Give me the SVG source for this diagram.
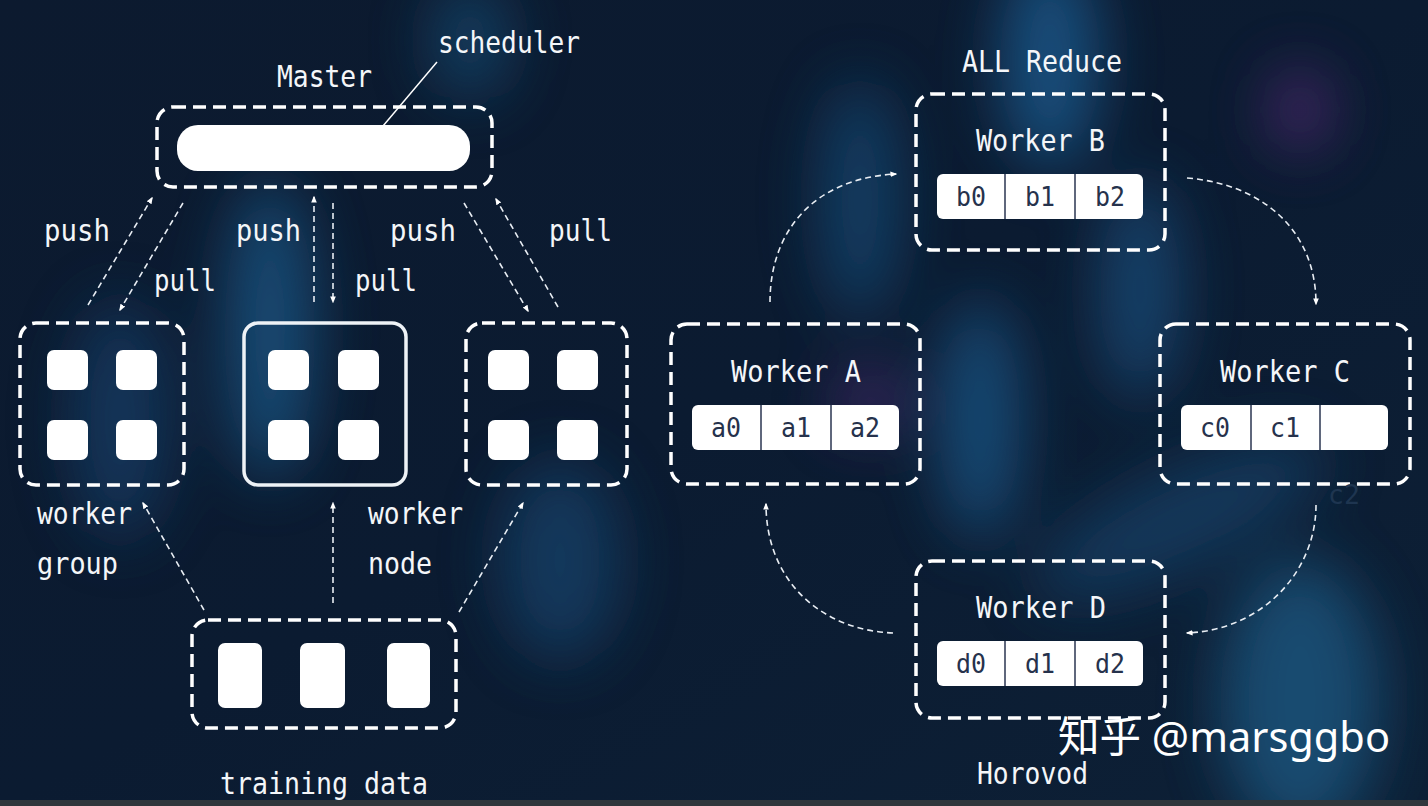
<svg xmlns="http://www.w3.org/2000/svg" width="1428" height="806" viewBox="0 0 1428 806">
<defs>
<style>
.dash{fill:none;stroke:#ffffff;stroke-width:3.5;stroke-dasharray:13 7}
.conn{fill:none;stroke:#e8edf3;stroke-width:1.6;stroke-dasharray:6 4}
.lbl{font-family:"DejaVu Sans Mono","Liberation Mono",monospace;font-size:30px;fill:#f4f6f9}
.cell{fill:#ffffff}
.div{stroke:#2a3550;stroke-width:1.5}
.ct{font-family:"DejaVu Sans Mono","Liberation Mono",monospace;font-size:26px;fill:#26324c}
.sq{fill:#ffffff}
</style>
<marker id="ah" viewBox="0 0 10 10" refX="8" refY="5" markerWidth="7" markerHeight="7" orient="auto-start-reverse" markerUnits="userSpaceOnUse">
<path d="M0,1 L10,5 L0,9 z" fill="#ffffff"/>
</marker>
<filter id="blur" x="-50%" y="-50%" width="200%" height="200%"><feGaussianBlur stdDeviation="30"/></filter>
<linearGradient id="bg" x1="0" y1="0" x2="1" y2="1">
<stop offset="0" stop-color="#0c1a2f"/>
<stop offset="0.5" stop-color="#0b1b31"/>
<stop offset="1" stop-color="#0d2036"/>
</linearGradient>
</defs>
<rect x="0" y="0" width="1428" height="806" fill="url(#bg)"/>
<g filter="url(#blur)" opacity="0.75">
<ellipse cx="270" cy="330" rx="45" ry="150" fill="#1b5a8a"/>
<ellipse cx="1050" cy="60" rx="50" ry="110" fill="#1a5f94"/>
<ellipse cx="980" cy="420" rx="40" ry="120" fill="#1a5a8c"/>
<ellipse cx="1140" cy="290" rx="40" ry="110" fill="#1a4f7e"/>
<ellipse cx="1300" cy="700" rx="80" ry="140" fill="#1a5a84"/>
<ellipse cx="860" cy="200" rx="40" ry="120" fill="#174a74"/>
<ellipse cx="560" cy="560" rx="60" ry="100" fill="#14426a"/>
<ellipse cx="470" cy="40" rx="40" ry="60" fill="#154870"/>
<ellipse cx="1300" cy="110" rx="30" ry="40" fill="#5a2a7a"/>
<ellipse cx="870" cy="400" rx="40" ry="30" fill="#4a2a70"/>
<ellipse cx="120" cy="420" rx="50" ry="120" fill="#143e66"/>
<ellipse cx="1180" cy="520" rx="160" ry="50" fill="#173f66" transform="rotate(-25 1180 520)"/>
</g>
<rect x="0" y="800" width="1428" height="6" fill="#30363c"/>

<g id="connectors">
<line class="conn" x1="88" y1="305" x2="152" y2="198" marker-end="url(#ah)"/>
<line class="conn" x1="183" y1="203" x2="120" y2="310" marker-end="url(#ah)"/>
<line class="conn" x1="314" y1="302" x2="314" y2="197" marker-end="url(#ah)"/>
<line class="conn" x1="333" y1="203" x2="333" y2="302" marker-end="url(#ah)"/>
<line class="conn" x1="464" y1="203" x2="528" y2="311" marker-end="url(#ah)"/>
<line class="conn" x1="558" y1="307" x2="496" y2="199" marker-end="url(#ah)"/>
<line class="conn" x1="204" y1="610" x2="143" y2="503" marker-end="url(#ah)"/>
<line class="conn" x1="333" y1="603" x2="333" y2="503" marker-end="url(#ah)"/>
<line class="conn" x1="459" y1="612" x2="523" y2="503" marker-end="url(#ah)"/>
<path class="conn" d="M770,302 C770,230 815,178 896,174" marker-end="url(#ah)"/>
<path class="conn" d="M1187,178 C1262,184 1316,230 1316,304" marker-end="url(#ah)"/>
<path class="conn" d="M1316,505 C1316,572 1262,630 1187,633" marker-end="url(#ah)"/>
<path class="conn" d="M893,633 C820,630 766,580 766,504" marker-end="url(#ah)"/>
<line x1="437" y1="62" x2="383" y2="126" stroke="#ffffff" stroke-width="1.5"/>
</g>

<g id="master">
<text class="lbl" x="277" y="87" textLength="95" lengthAdjust="spacingAndGlyphs">Master</text>
<text class="lbl" x="438" y="53" textLength="142" lengthAdjust="spacingAndGlyphs">scheduler</text>
<rect class="dash" x="157" y="107" width="335" height="80" rx="16"/>
<rect x="177" y="125" width="293" height="46" rx="21" fill="#ffffff"/>
</g>

<g id="labels-push-pull">
<text class="lbl" x="44" y="241" textLength="66" lengthAdjust="spacingAndGlyphs">push</text>
<text class="lbl" x="154" y="291" textLength="62" lengthAdjust="spacingAndGlyphs">pull</text>
<text class="lbl" x="236" y="241" textLength="65" lengthAdjust="spacingAndGlyphs">push</text>
<text class="lbl" x="355" y="291" textLength="62" lengthAdjust="spacingAndGlyphs">pull</text>
<text class="lbl" x="390" y="241" textLength="66" lengthAdjust="spacingAndGlyphs">push</text>
<text class="lbl" x="549" y="241" textLength="63" lengthAdjust="spacingAndGlyphs">pull</text>
</g>

<g id="worker-group-1">
<rect class="dash" x="20" y="323" width="164" height="162" rx="16"/>
<rect class="sq" x="47" y="350" width="41" height="40" rx="7"/>
<rect class="sq" x="116" y="350" width="41" height="40" rx="7"/>
<rect class="sq" x="47" y="420" width="41" height="40" rx="7"/>
<rect class="sq" x="116" y="420" width="41" height="40" rx="7"/>
<text class="lbl" x="37" y="524" textLength="95" lengthAdjust="spacingAndGlyphs">worker</text>
<text class="lbl" x="37" y="574" textLength="81" lengthAdjust="spacingAndGlyphs">group</text>
</g>

<g id="worker-group-2">
<rect x="244" y="323" width="162" height="162" rx="14" fill="none" stroke="#eef2f6" stroke-width="3.5"/>
<rect class="sq" x="268" y="350" width="41" height="40" rx="7"/>
<rect class="sq" x="338" y="350" width="41" height="40" rx="7"/>
<rect class="sq" x="268" y="420" width="41" height="40" rx="7"/>
<rect class="sq" x="338" y="420" width="41" height="40" rx="7"/>
<text class="lbl" x="368" y="524" textLength="95" lengthAdjust="spacingAndGlyphs">worker</text>
<text class="lbl" x="368" y="574" textLength="64" lengthAdjust="spacingAndGlyphs">node</text>
</g>

<g id="worker-group-3">
<rect class="dash" x="466" y="323" width="161" height="162" rx="16"/>
<rect class="sq" x="488" y="350" width="41" height="40" rx="7"/>
<rect class="sq" x="557" y="350" width="41" height="40" rx="7"/>
<rect class="sq" x="488" y="420" width="41" height="40" rx="7"/>
<rect class="sq" x="557" y="420" width="41" height="40" rx="7"/>
</g>

<g id="training-data">
<rect class="dash" x="192" y="620" width="264" height="108" rx="16"/>
<rect class="sq" x="218" y="643" width="44" height="65" rx="7"/>
<rect class="sq" x="300" y="643" width="45" height="65" rx="7"/>
<rect class="sq" x="387" y="643" width="43" height="65" rx="7"/>
<text class="lbl" x="220" y="794" textLength="208" lengthAdjust="spacingAndGlyphs">training data</text>
</g>

<text class="lbl" x="962" y="72" textLength="160" lengthAdjust="spacingAndGlyphs">ALL Reduce</text>

<g id="worker-b">
<rect class="dash" x="916" y="94" width="249" height="156" rx="16"/>
<text class="lbl" x="976" y="151" textLength="129" lengthAdjust="spacingAndGlyphs">Worker B</text>
<rect class="cell" x="937" y="174" width="206" height="45" rx="6"/>
<line class="div" x1="1005" y1="174" x2="1005" y2="219"/>
<line class="div" x1="1075" y1="174" x2="1075" y2="219"/>
<text class="ct" x="956" y="206" textLength="30" lengthAdjust="spacingAndGlyphs">b0</text>
<text class="ct" x="1025" y="206" textLength="30" lengthAdjust="spacingAndGlyphs">b1</text>
<text class="ct" x="1095" y="206" textLength="30" lengthAdjust="spacingAndGlyphs">b2</text>
</g>

<g id="worker-a">
<rect class="dash" x="671" y="324" width="249" height="160" rx="16"/>
<text class="lbl" x="731" y="382" textLength="130" lengthAdjust="spacingAndGlyphs">Worker A</text>
<rect class="cell" x="692" y="405" width="207" height="45" rx="6"/>
<line class="div" x1="761" y1="405" x2="761" y2="450"/>
<line class="div" x1="831" y1="405" x2="831" y2="450"/>
<text class="ct" x="711" y="437" textLength="30" lengthAdjust="spacingAndGlyphs">a0</text>
<text class="ct" x="781" y="437" textLength="30" lengthAdjust="spacingAndGlyphs">a1</text>
<text class="ct" x="850" y="437" textLength="30" lengthAdjust="spacingAndGlyphs">a2</text>
</g>

<g id="worker-c">
<rect class="dash" x="1160" y="324" width="250" height="160" rx="16"/>
<text class="lbl" x="1220" y="382" textLength="130" lengthAdjust="spacingAndGlyphs">Worker C</text>
<rect class="cell" x="1181" y="405" width="207" height="45" rx="6"/>
<line class="div" x1="1251" y1="405" x2="1251" y2="450"/>
<line class="div" x1="1320" y1="405" x2="1320" y2="450"/>
<text class="ct" x="1200" y="437" textLength="30" lengthAdjust="spacingAndGlyphs">c0</text>
<text class="ct" x="1270" y="437" textLength="30" lengthAdjust="spacingAndGlyphs">c1</text>
<text class="ct" x="1328" y="504" textLength="32" lengthAdjust="spacingAndGlyphs" style="fill:#1e3550">c2</text>
</g>

<g id="worker-d">
<rect class="dash" x="916" y="561" width="249" height="157" rx="16"/>
<text class="lbl" x="976" y="618" textLength="130" lengthAdjust="spacingAndGlyphs">Worker D</text>
<rect class="cell" x="937" y="641" width="206" height="45" rx="6"/>
<line class="div" x1="1005" y1="641" x2="1005" y2="686"/>
<line class="div" x1="1075" y1="641" x2="1075" y2="686"/>
<text class="ct" x="956" y="673" textLength="30" lengthAdjust="spacingAndGlyphs">d0</text>
<text class="ct" x="1025" y="673" textLength="30" lengthAdjust="spacingAndGlyphs">d1</text>
<text class="ct" x="1095" y="673" textLength="30" lengthAdjust="spacingAndGlyphs">d2</text>
</g>

<text class="lbl" x="977" y="784" textLength="111" lengthAdjust="spacingAndGlyphs">Horovod</text>
<text x="1058" y="752" font-family="'Noto Sans','Noto Sans CJK SC',sans-serif" font-size="42" fill="#ffffff" textLength="332" lengthAdjust="spacingAndGlyphs">知乎 @marsggbo</text>
</svg>
